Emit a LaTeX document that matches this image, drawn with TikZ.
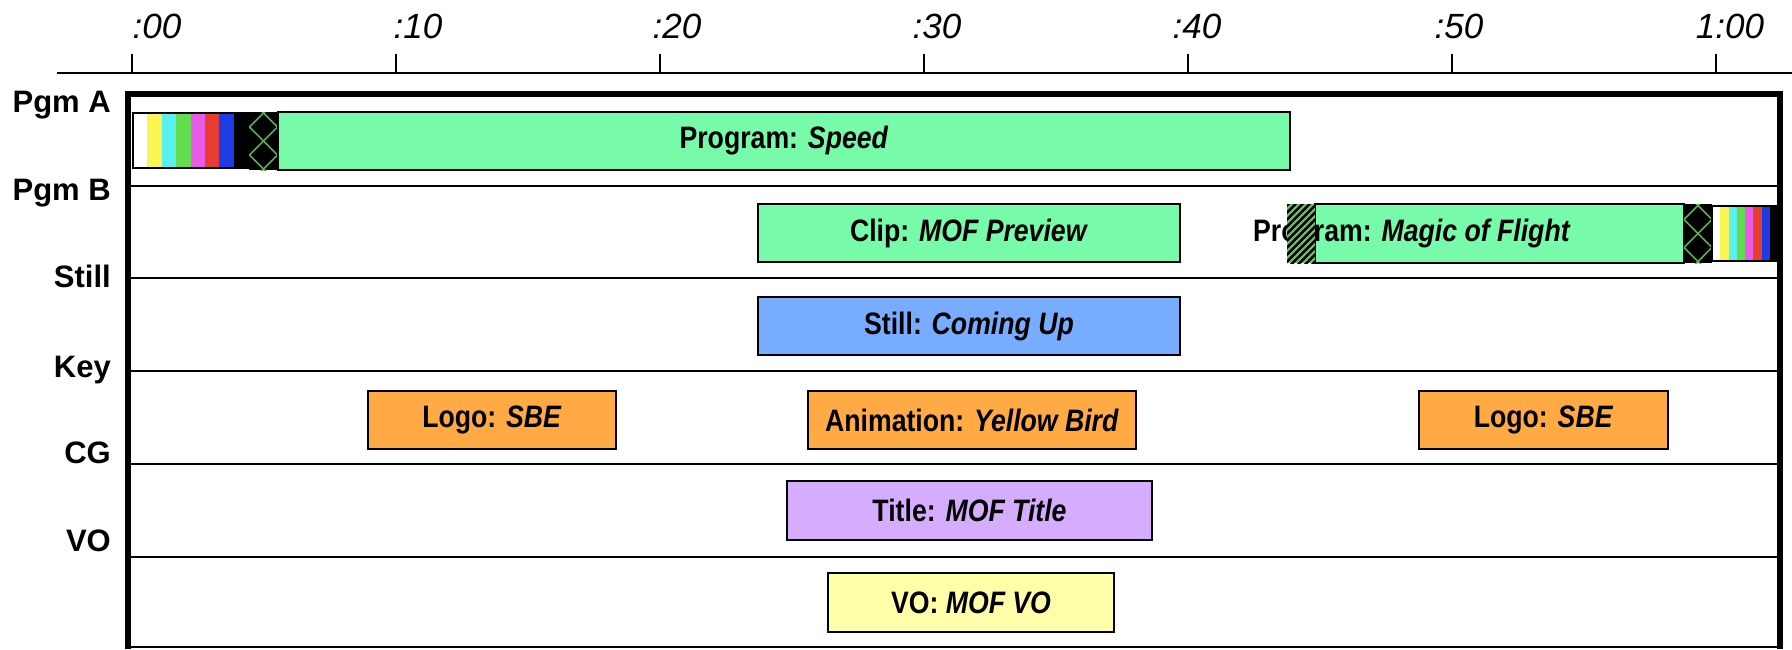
\documentclass[tikz,border=0pt]{standalone}
\usepackage{fontspec}
\setmainfont{Liberation Sans}
\newfontfamily\cuefont[FakeStretch=0.86]{Liberation Sans}
\usetikzlibrary{calc}

\definecolor{pgmgreen}{RGB}{119,251,170}
\definecolor{stillblue}{RGB}{120,172,255}
\definecolor{keyorange}{RGB}{255,170,68}
\definecolor{cgpurple}{RGB}{214,172,255}
\definecolor{voyellow}{RGB}{255,255,170}
\definecolor{hatchgreen}{RGB}{112,190,112}
\definecolor{latticegreen}{RGB}{95,170,95}
\definecolor{barYellow}{RGB}{250,245,80}
\definecolor{barCyan}{RGB}{90,240,240}
\definecolor{barGreen}{RGB}{100,220,80}
\definecolor{barMagenta}{RGB}{232,90,232}
\definecolor{barRed}{RGB}{232,60,50}
\definecolor{barBlue}{RGB}{30,60,230}

\tikzset{
  cue/.style={draw=black, line width=2pt, inner sep=0pt,
    font=\cuefont\bfseries\fontsize{31}{36}\selectfont},
  cuetext/.style={inner sep=0pt, font=\cuefont\bfseries\fontsize{31}{36}\selectfont},
  lanelabel/.style={anchor=base east, inner sep=0pt, font=\bfseries\fontsize{31}{36}\selectfont},
  ticklabel/.style={anchor=base, inner sep=0pt, font=\itshape\fontsize{35}{40}\selectfont},
  laneline/.style={line width=2.5pt},
  lattice/.style={latticegreen, line width=1.6pt},
}

% cue box from (x1,y1) to (x2,y2), pixel coordinates
\def\cue[#1](#2,#3)(#4,#5)#6#7{\node[cue,#1,minimum width={#4-#2},minimum height={#5-#3}] (#6) at ({(#2+#4)/2},{(#3+#5)/2}) {#7};}
\def\colourbars(#1,#2)(#3,#4){%
  \foreach \c [count=\i from 0] in {white,barYellow,barCyan,barGreen,barMagenta,barRed,barBlue,black}
    \fill[\c] ({#1+\i*(#3-#1)/8},#2) rectangle ({#1+(\i+1)*(#3-#1)/8},#4);
  \draw[line width=1.2pt] (#1,#2) rectangle (#3,#4);}
\def\crosshatch(#1,#2)(#3,#4){%
  \begin{scope}
    \clip (#1,#2) rectangle (#3,#4);
    \fill[black] (#1,#2) rectangle (#3,#4);
    \foreach \k in {-3,...,3}{
      \draw[lattice] ({(#1+#3)/2+28*\k-40},{(#2+#4)/2-40}) -- ++(80,80);
      \draw[lattice] ({(#1+#3)/2+28*\k-40},{(#2+#4)/2+40}) -- ++(80,-80);}
  \end{scope}}
\def\hatch(#1,#2)(#3,#4){%
  \begin{scope}
    \clip (#1,#2) rectangle (#3,#4);
    \fill[hatchgreen] (#1,#2) rectangle (#3,#4);
    \foreach \k in {-12,...,12}
      \draw[black, line width=2.5pt] ({(#1+#3)/2+7*\k-40},{(#2+#4)/2+40}) -- ++(80,-80);
  \end{scope}}

\begin{document}
\begin{tikzpicture}[x=1pt,y=-1pt]
	%%%%% START %%%%%
	\useasboundingbox (0,0) rectangle (1792,649);

	% time axis
	\draw[line width=2pt] (57,73) -- (1792,73);
	\foreach \k in {0,...,6}
		\draw[line width=1.5pt] ({132+264*\k},54) -- ({132+264*\k},73);
	\foreach \x/\lab [count=\i] in {157/{:00},418/{:10},677/{:20},937/{:30},1197/{:40},1459/{:50},1730/{1:00}}
		\node[ticklabel] (tick\i) at (\x,38) {\lab};

	% lane names
	\node[lanelabel] (pgma) at (111,112) {Pgm A};
	\node[lanelabel] (pgmb) at (111,200) {Pgm B};
	\node[lanelabel] (still) at (111,287) {Still};
	\node[lanelabel] (key) at (111,377) {Key};
	\node[lanelabel] (cg) at (111,463) {CG};
	\node[lanelabel] (vo) at (111,551) {VO};

	% lane lines
	\foreach \y in {186,278,371,464,557}
		\draw[laneline] (128,\y) -- (1780,\y);
	\draw[line width=2pt] (128,647) -- (1780,647);

	% Pgm A
	\colourbars(133,113)(248,168)
	\crosshatch(249,112)(278,170)
	\cue[fill=pgmgreen](278,112)(1290,170){speed}{Program: \textit{Speed}}

	% Pgm B
	\cue[fill=pgmgreen](758,204)(1180,262){clip}{Clip: \textit{MOF Preview}}
	\cue[fill=pgmgreen](1315,204)(1684,263){magicbox}{}
	\node[cuetext, anchor=west] (magic) at (1253,234) {Program: \textit{Magic of Flight}};
	\hatch(1287,204)(1315,263)
	\crosshatch(1684,204)(1712,263)
	\colourbars(1712,206)(1778,261)

	% Still
	\cue[fill=stillblue](758,297)(1180,355){coming}{Still: \textit{Coming Up}}

	% Key
	\cue[fill=keyorange](368,391)(616,449){logoa}{Logo: \textit{SBE}}
	\cue[fill=keyorange](808,391)(1136,449){bird}{Animation: \textit{Yellow Bird}}
	\cue[fill=keyorange](1419,391)(1668,449){logob}{Logo: \textit{SBE}}

	% CG
	\cue[fill=cgpurple](787,481)(1152,540){title}{Title: \textit{MOF Title}}

	% VO
	\cue[fill=voyellow](828,573)(1114,632){mofvo}{VO: \textit{MOF VO}}

	% frame
	\draw[line width=6pt] (128,649) -- (128,94) -- (1780,94) -- (1780,649);
	%%%%% END %%%%%
\end{tikzpicture}
\end{document}
